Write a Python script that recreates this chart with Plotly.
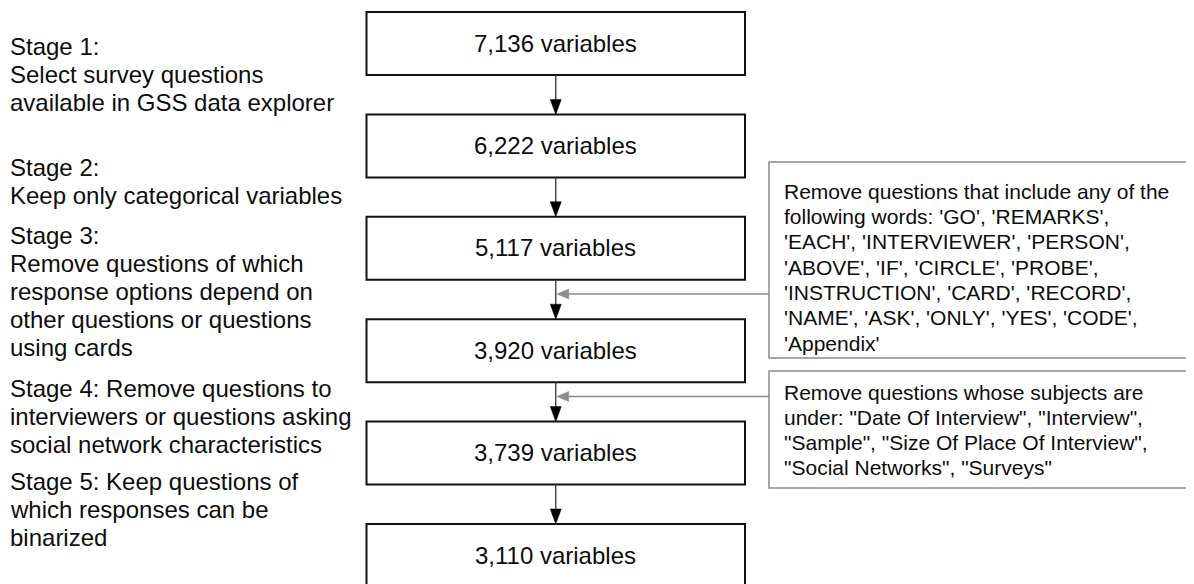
import plotly.graph_objects as go

# ---------------- data ----------------
counts = [7136, 6222, 5117, 3920, 3739, 3110]
count_suffix = "variables"

stage_paragraphs = [
    ["Stage 1:", "Select survey questions", "available in GSS data explorer"],
    ["Stage 2:", "Keep only categorical variables"],
    ["Stage 3:", "Remove questions of which", "response options depend on",
     "other questions or questions", "using cards"],
    ["Stage 4: Remove questions to", "interviewers or questions asking",
     "social network characteristics"],
    ["Stage 5: Keep questions of", "which responses can be", "binarized"],
]

filter_word_lines = [
    "Remove questions that include any of the",
    "following words: 'GO', 'REMARKS',",
    "'EACH', 'INTERVIEWER', 'PERSON',",
    "'ABOVE', 'IF', 'CIRCLE', 'PROBE',",
    "'INSTRUCTION', 'CARD', 'RECORD',",
    "'NAME', 'ASK', 'ONLY', 'YES', 'CODE',",
    "'Appendix'",
]
filter_subject_lines = [
    "Remove questions whose subjects are",
    "under: \"Date Of Interview\", \"Interview\",",
    "\"Sample\", \"Size Of Place Of Interview\",",
    "\"Social Networks\", \"Surveys\"",
]

# ---------------- layout geometry (page pixel coordinates) ----------------
W, H = 1194, 584
PAGE_MARGIN = 8  # default body margin of the written html page
FONT = "Liberation Sans, Arial, Helvetica, sans-serif"
box_x0, box_x1 = 366.5, 745
box_cx = (box_x0 + box_x1) / 2
box_top0, box_pitch, box_h = 12, 102.4, 63

para_starts = [46.5, 167, 235, 388, 481.5]
para_spacing = 28.2

side_boxes = [
    dict(x0=769, x1=1200, y0=162, y1=358, arrow_y=294, text_y0=191,
         spacing=25.35, lines=filter_word_lines),
    dict(x0=769, x1=1200, y0=371, y1=488, arrow_y=396.5, text_y0=392,
         spacing=25.0, lines=filter_subject_lines),
]

BLACK = "#111111"
ARROW = "#333333"
GREY = "#8c8c8c"
TEXT = "#0d0d0d"

shapes = []
annotations = []

# main boxes
tops = [box_top0 + i * box_pitch for i in range(len(counts))]
for i, (n, t) in enumerate(zip(counts, tops)):
    shapes.append(dict(type="rect", xref="x", yref="y", x0=box_x0, x1=box_x1,
                       y0=t, y1=t + box_h, line=dict(color=BLACK, width=2),
                       fillcolor="white", layer="below"))
    annotations.append(dict(x=box_cx, y=t + box_h / 2 - 0.5, xref="x", yref="y",
                            text=f"{n:,} {count_suffix}", showarrow=False,
                            xanchor="center", yanchor="middle", borderpad=0,
                            font=dict(family=FONT, size=24, color=TEXT)))

# vertical arrows between boxes
head_len, head_hw = 15, 5.5
for i in range(len(counts) - 1):
    y_start = tops[i] + box_h
    y_tip = tops[i + 1]
    shapes.append(dict(type="line", xref="x", yref="y", x0=box_cx, x1=box_cx,
                       y0=y_start, y1=y_tip - head_len + 1,
                       line=dict(color=ARROW, width=1.3)))
    shapes.append(dict(type="path", xref="x", yref="y",
                       path=f"M {box_cx - head_hw} {y_tip - head_len} L {box_cx + head_hw} {y_tip - head_len} L {box_cx} {y_tip} Z",
                       fillcolor="#000", line=dict(color="#000", width=0.5)))

# side boxes with grey arrows
g_len, g_hw = 12, 5
for sb in side_boxes:
    shapes.append(dict(type="rect", xref="x", yref="y", x0=sb["x0"], x1=sb["x1"],
                       y0=sb["y0"], y1=sb["y1"], line=dict(color=GREY, width=1.5),
                       fillcolor="white"))
    ay = sb["arrow_y"]
    tip = box_cx + 1
    shapes.append(dict(type="line", xref="x", yref="y", x0=sb["x0"], x1=tip + g_len - 1,
                       y0=ay, y1=ay, line=dict(color=GREY, width=1.5)))
    shapes.append(dict(type="path", xref="x", yref="y",
                       path=f"M {tip + g_len} {ay - g_hw} L {tip + g_len} {ay + g_hw} L {tip} {ay} Z",
                       fillcolor=GREY, line=dict(color=GREY, width=0.5)))
    for j, line in enumerate(sb["lines"]):
        annotations.append(dict(x=sb["x0"] + 14, y=sb["text_y0"] + j * sb["spacing"],
                                xref="x", yref="y", text=line, showarrow=False,
                                xanchor="left", yanchor="middle", borderpad=0,
                                font=dict(family=FONT, size=21, color=TEXT)))

# left stage descriptions
for start, para in zip(para_starts, stage_paragraphs):
    for j, line in enumerate(para):
        annotations.append(dict(x=9, y=start + j * para_spacing, xref="x", yref="y",
                                text=line, showarrow=False, xanchor="left",
                                yanchor="middle", borderpad=0,
                                font=dict(family=FONT, size=24, color=TEXT)))

fig = go.Figure()
fig.update_layout(
    width=W - PAGE_MARGIN, height=H - PAGE_MARGIN,
    margin=dict(l=0, r=0, t=0, b=0),
    paper_bgcolor="white", plot_bgcolor="white",
    xaxis=dict(range=[PAGE_MARGIN, W], visible=False, fixedrange=True),
    yaxis=dict(range=[H, PAGE_MARGIN], visible=False, fixedrange=True),
    shapes=shapes, annotations=annotations, showlegend=False,
)
fig.write_html("out.html", config={"displayModeBar": False})
